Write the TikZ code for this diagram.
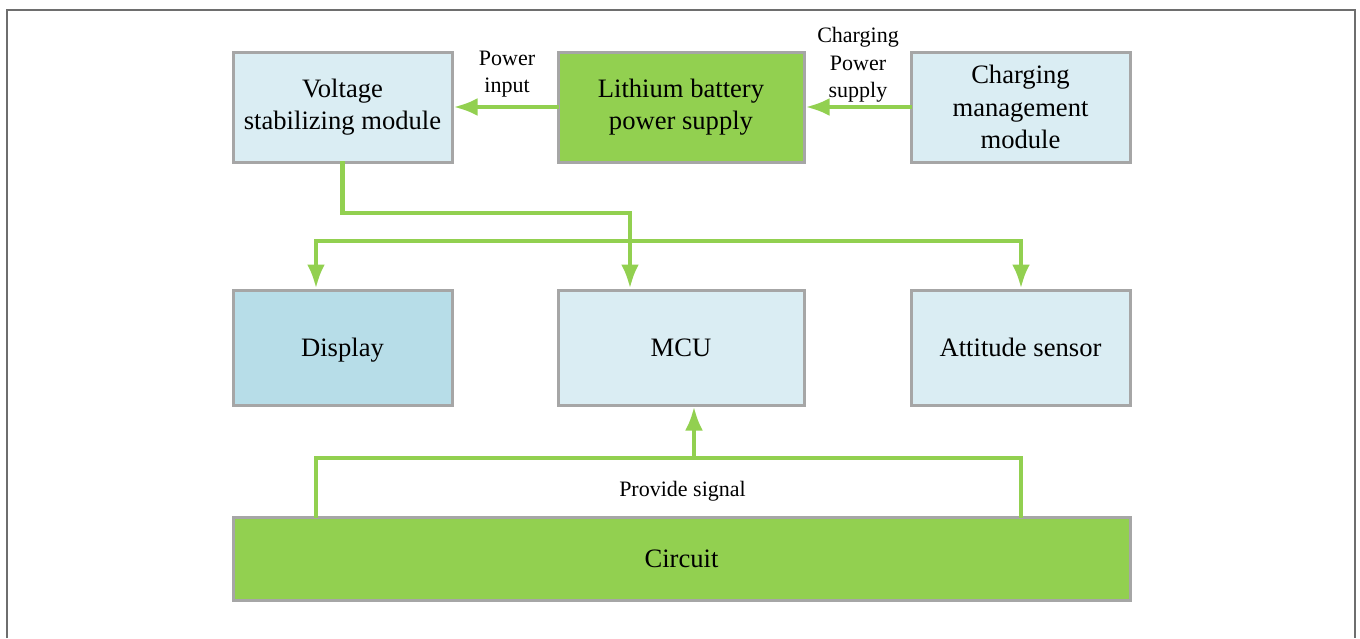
\documentclass[tikz,border=0pt]{standalone}
\usepackage{fontspec}
\setmainfont{Liberation Serif}
\usetikzlibrary{arrows.meta}
\definecolor{lgreen}{HTML}{92D050}
\definecolor{lblue}{HTML}{DAEDF3}
\definecolor{dblue}{HTML}{B7DDE8}
\definecolor{bgray}{HTML}{A6A6A6}
\definecolor{fgray}{HTML}{6E6E6E}
\tikzset{
  box/.style={draw=bgray, line width=1.5pt, fill=lblue, align=center, inner sep=0pt,
    font=\fontsize{13.3}{16.2}\selectfont},
  lbl/.style={align=center, inner sep=0pt, font=\fontsize{11}{13.8}\selectfont},
  wire/.style={draw=lgreen, line width=2.2pt, line cap=rect},
  conn/.style={wire, -{Latex[length=12pt,width=9pt]}},
}
\begin{document}
\begin{tikzpicture}[x=0.5pt,y=-0.5pt]
\useasboundingbox (0,0) rectangle (1360,638);
\draw[fgray, line width=1pt] (7,638) -- (7,10) -- (1355,10) -- (1355,638);

\node[box, minimum width=109.5pt, minimum height=55pt] (volt) at (342.5,107) {Voltage\\stabilizing module};
\node[box, fill=lgreen, minimum width=123pt, minimum height=55pt] (lith) at (681,107) {Lithium battery\\power supply};
\node[box, minimum width=109.5pt, minimum height=55pt] (chg) at (1020.5,107) {Charging\\management\\module};

\node[box, fill=dblue, minimum width=109.5pt, minimum height=57.5pt, text depth=0pt] (disp) at (342.5,347.5) {Display};
\node[box, minimum width=123pt, minimum height=57.5pt] (mcu) at (681,347.5) {MCU};
\node[box, minimum width=109.5pt, minimum height=57.5pt] (att) at (1020.5,347.5) {Attitude sensor};

\node[box, fill=lgreen, minimum width=448.5pt, minimum height=41.5pt] (circ) at (681.5,558.5) {Circuit};

\node[lbl] (lpi) at (507,74) {Power\\input};
\node[lbl] (lcp) at (858,65) {Charging\\Power\\supply};
\node[lbl] (lps) at (682.5,491) {Provide signal};

\draw[conn] (lith.west) -- (volt.east);
\draw[conn] (chg.west) -- (lith.east);

\coordinate (m1) at (630,213);
\draw[conn] (volt.south) |- (m1) -- (m1 |- mcu.north);

\coordinate (b1) at (316,241);
\coordinate (b2) at (1021,241);
\draw[wire] (b1) -- (b2);
\draw[conn] (b1) -- (b1 |- disp.north);
\draw[conn] (b2) -- (b2 |- att.north);

\coordinate (s1) at (316,458);
\coordinate (s2) at (1021,458);
\coordinate (s0) at (694,458);
\draw[wire] (circ.north -| s1) -- (s1) -- (s2) -- (circ.north -| s2);
\draw[conn] (s0) -- (s0 |- mcu.south);
\end{tikzpicture}
\end{document}
